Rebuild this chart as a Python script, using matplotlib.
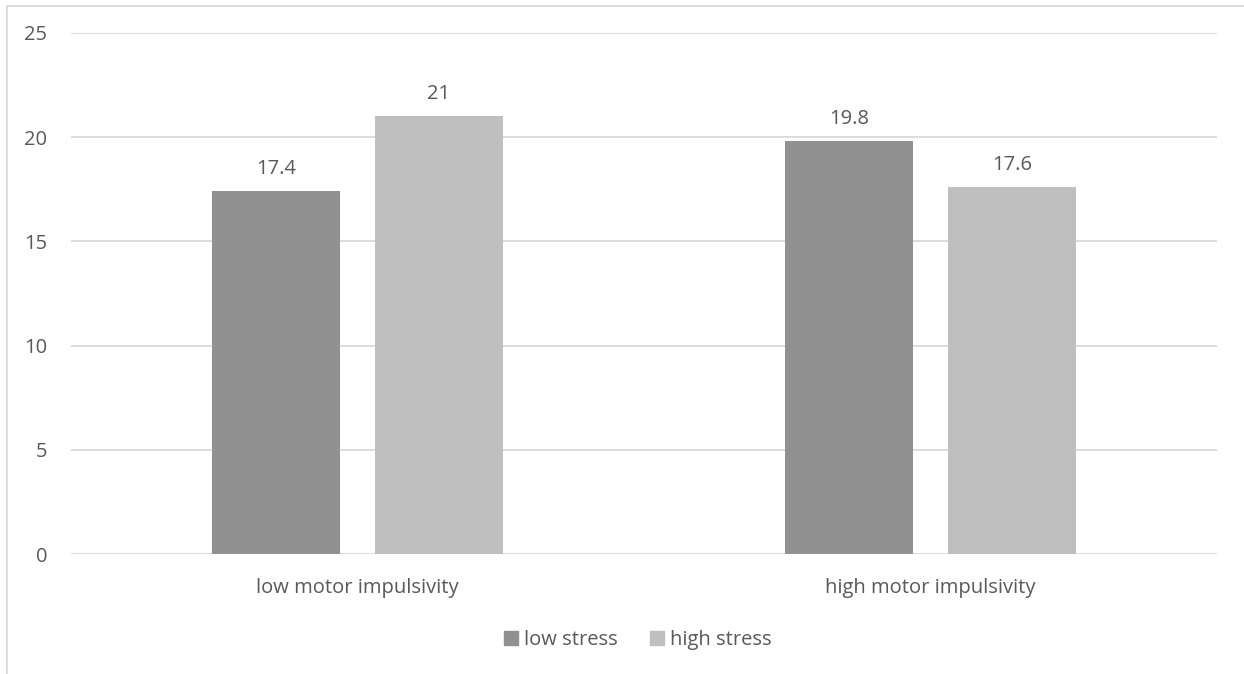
import matplotlib
matplotlib.use("Agg")
import matplotlib.pyplot as plt
from matplotlib.lines import Line2D
import numpy as np

categories = ["low motor impulsivity", "high motor impulsivity"]
series_names = ["low stress", "high stress"]
low_stress = [17.4, 19.8]
high_stress = [21, 17.6]
yticks = [0, 5, 10, 15, 20, 25]

colors = ["#919191", "#bfbfbf"]
text_color = "#595959"
grid_color = "#d9d9d9"

plt.rcParams['font.family'] = ['Open Sans', 'DejaVu Sans']
FS = 14.5

W, H = 1244, 674
fig = plt.figure(figsize=(W / 100, H / 100), dpi=100)
ax = fig.add_axes([71 / W, 1 - 554 / H, (1217 - 71) / W, (554 - 33) / H])

x = np.arange(len(categories))
bw = 128 / 573
off = (128 + 35) / 2 / 573
for vals, dx, c, name in [(low_stress, -off, colors[0], series_names[0]),
                          (high_stress, off, colors[1], series_names[1])]:
    bars = ax.bar(x + dx, vals, width=bw, color=c, label=name, zorder=3)
    for b, v in zip(bars, vals):
        ax.annotate(f"{v:g}", (b.get_x() + b.get_width() / 2, v),
                    xytext=(0, 12.7), textcoords="offset points",
                    ha="center", va="baseline", fontsize=FS, color=text_color)

ax.set_xlim(-0.5, 1.5)
ax.set_ylim(0, 25)
ax.set_yticks(yticks)
ax.set_yticklabels([str(t) for t in yticks])
ax.set_xticks(x)
ax.set_xticklabels(categories)
ax.yaxis.grid(True, color=grid_color, linewidth=1.3, zorder=0)
ax.set_axisbelow(True)
for s in ax.spines.values():
    s.set_visible(False)
ax.tick_params(axis="both", length=0, colors=text_color, labelsize=FS)
ax.tick_params(axis="y", pad=17)
ax.tick_params(axis="x", pad=17.5)

handles = [Line2D([], [], marker="s", linestyle="none", markersize=9.5,
                  markerfacecolor=c, markeredgecolor=c) for c in colors]
fig.legend(handles, series_names, loc="center", bbox_to_anchor=(637 / W, 1 - 640 / H),
           ncol=2, frameon=False, fontsize=FS, labelcolor=text_color,
           handletextpad=0.25, columnspacing=1.55, handlelength=0.8)

# outer chart border (left and top edges visible)
fig.add_artist(Line2D([7 / W, 7 / W], [0, 1 - 5.5 / H], transform=fig.transFigure,
                      color=grid_color, linewidth=1.3))
fig.add_artist(Line2D([7 / W, 1], [1 - 5.5 / H, 1 - 5.5 / H], transform=fig.transFigure,
                      color=grid_color, linewidth=1.3))

fig.savefig("out.png", dpi=100)
